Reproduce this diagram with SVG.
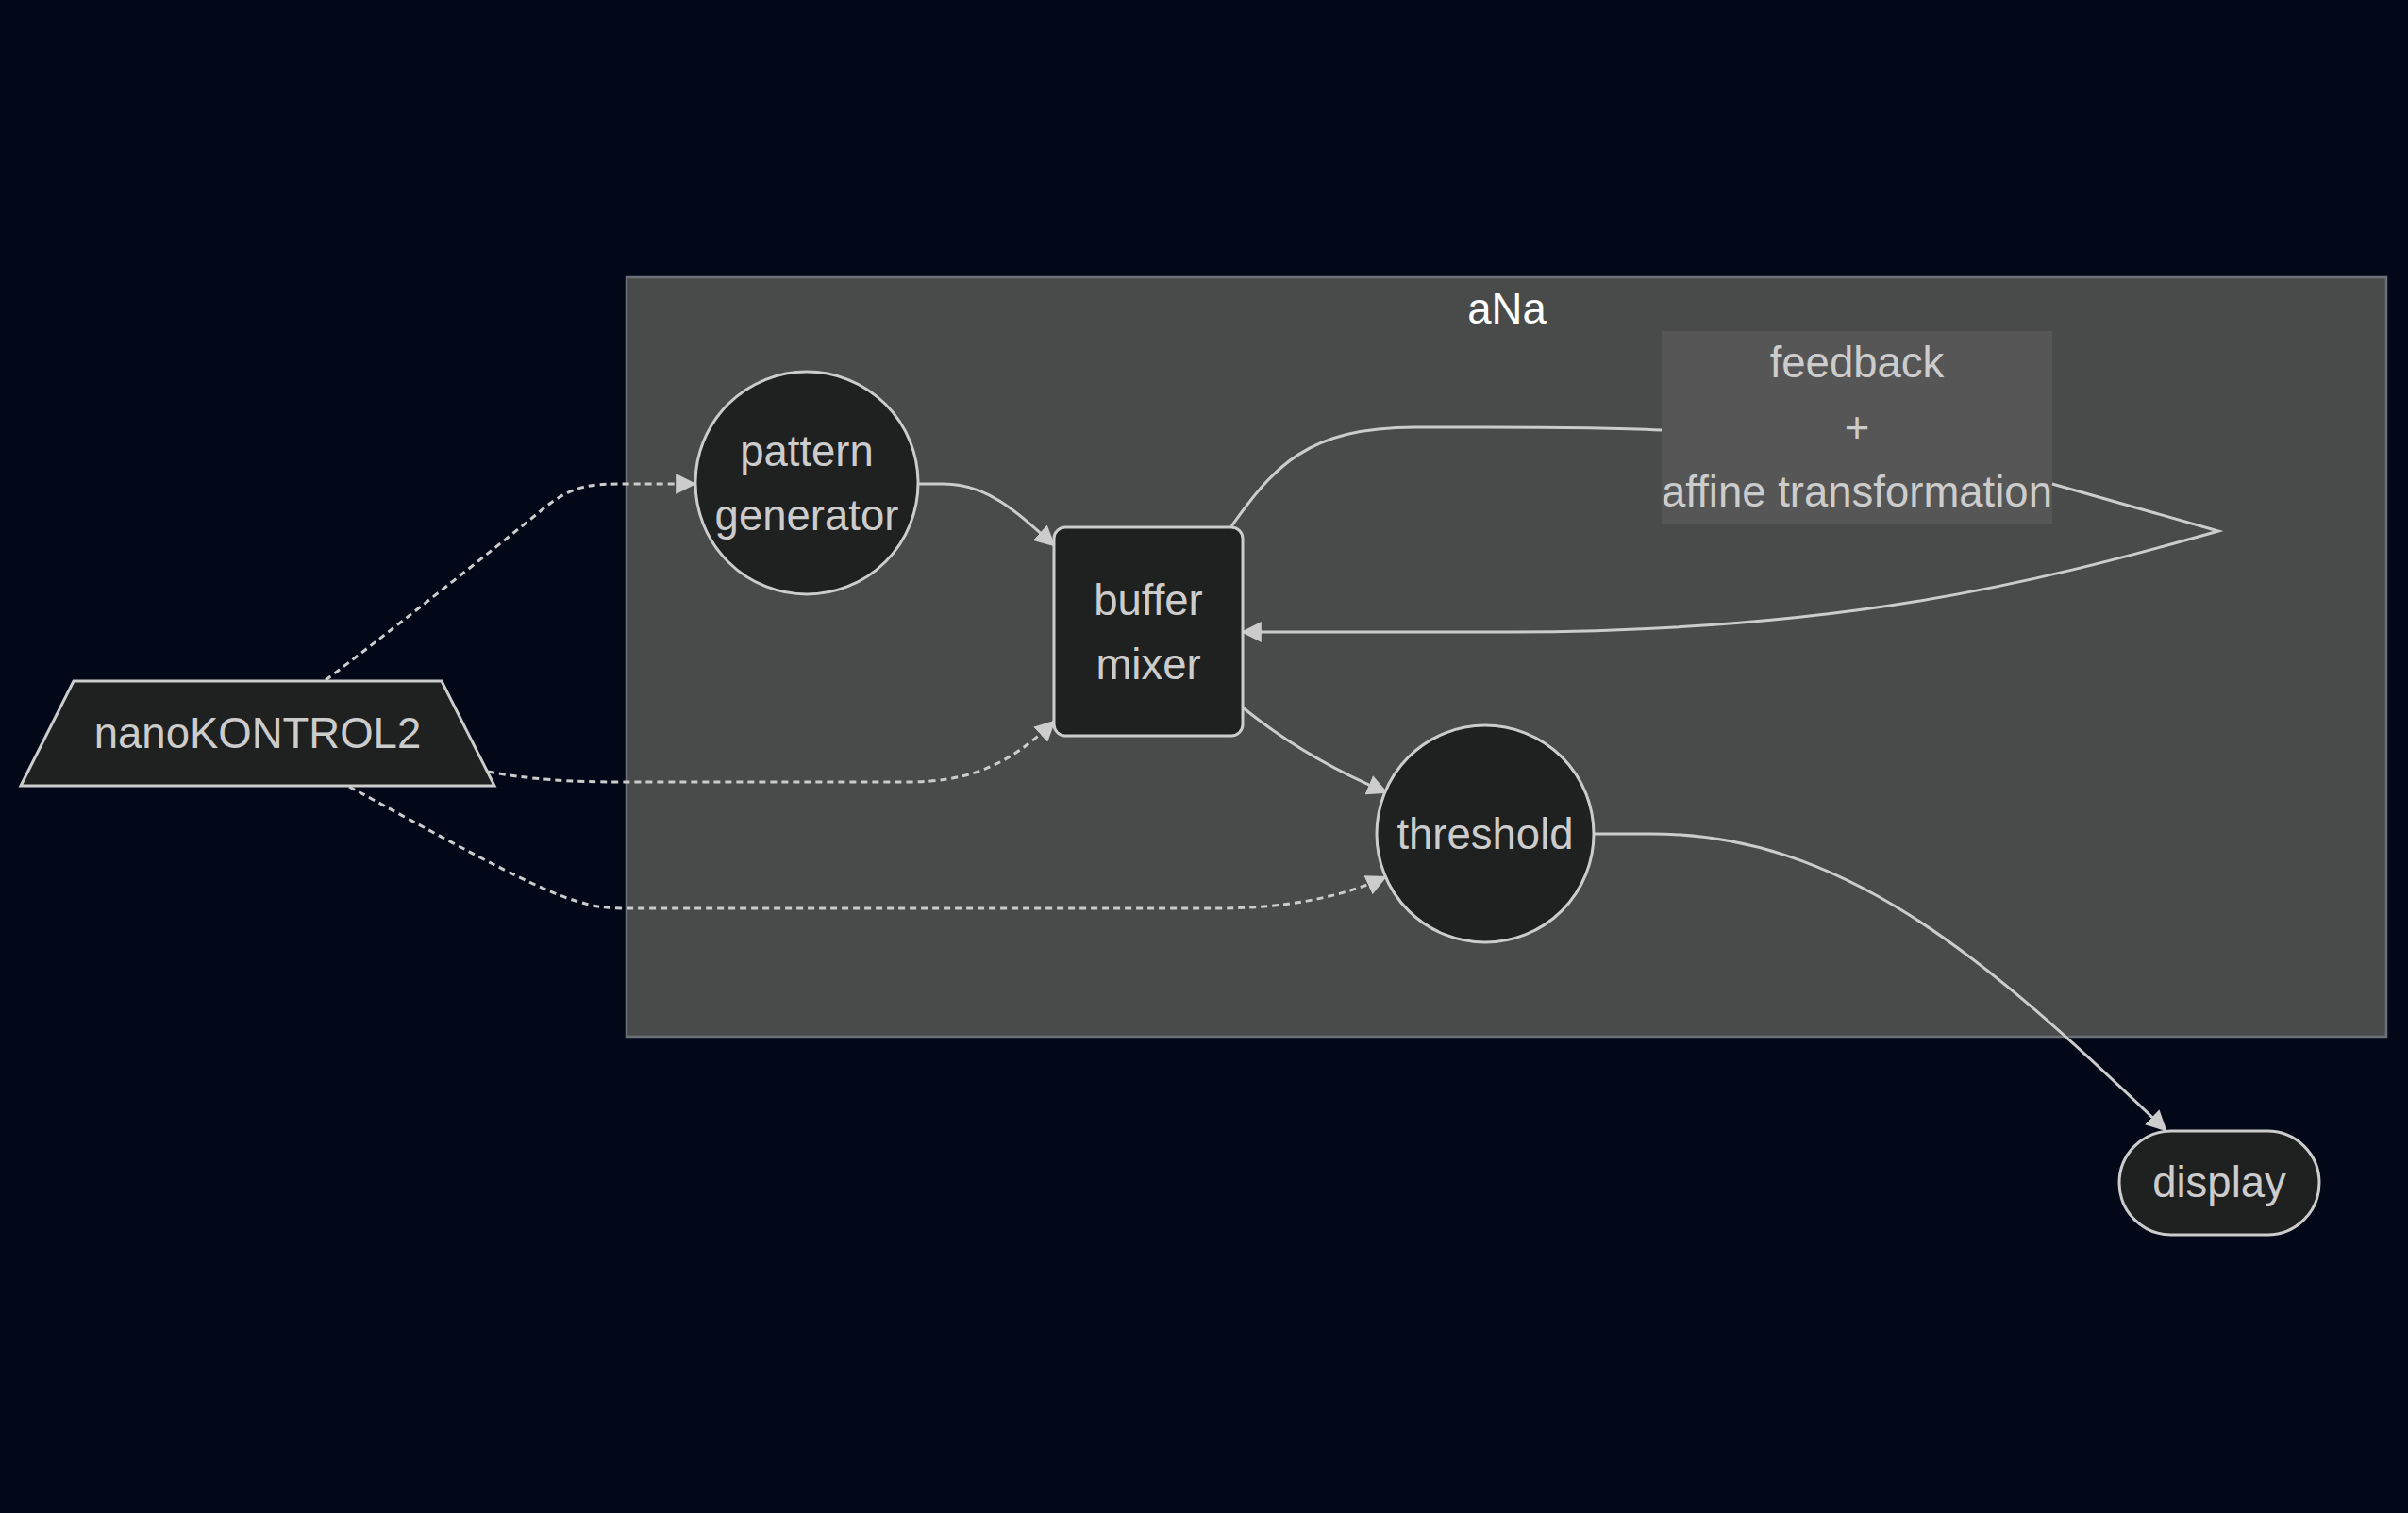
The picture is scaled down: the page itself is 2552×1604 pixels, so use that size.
<svg xmlns="http://www.w3.org/2000/svg" width="2552" height="1604" viewBox="0 0 2552 1604">
<style>
.bg{fill:#020817}
.cluster{fill:#494a4a;stroke:#6c7078;stroke-width:2.5}
.node{fill:#1f2020;stroke:#cccccc;stroke-width:3}
.lbl{font-family:"Liberation Sans",Arial,sans-serif;font-size:45.5px;fill:#cccccc;text-anchor:middle}
.title{font-family:"Liberation Sans",Arial,sans-serif;font-size:45.5px;fill:#ffffff;text-anchor:middle}
.edge{fill:none;stroke:#cccccc;stroke-width:3}
.dotted{stroke-dasharray:7 5}
</style>
<defs>
<marker id="arr" viewBox="0 0 10 10" refX="9" refY="5" markerUnits="userSpaceOnUse" markerWidth="22" markerHeight="22" orient="auto">
<path d="M0,0 L10,5 L0,10 z" fill="#cccccc"/>
</marker>
</defs>
<rect class="bg" x="0" y="0" width="2552" height="1604"/>
<g id="cluster-aNa">
<rect class="cluster" x="664" y="294" width="1865" height="805"/>
<text class="title" x="1597" y="343">aNa</text>
</g>
<g id="node-feedback">
<rect x="1761" y="351" width="414" height="205" fill="#565656"/>
<text class="lbl" x="1968" y="400">feedback</text>
<text class="lbl" x="1968" y="469">+</text>
<text class="lbl" x="1968" y="537">affine transformation</text>
</g>
<g id="connectors">
<path class="edge dotted" d="M345,721 C400,680 520,585 575,540 C605,515 625,513 660,513 L736,513" marker-end="url(#arr)"/>
<path class="edge dotted" d="M517,818 C560,826 600,829 660,829 L960,829 C1030,829 1070,810 1117,765" marker-end="url(#arr)"/>
<path class="edge dotted" d="M370,834 C450,877 560,940 610,955 C630,961 640,963 665,963 L1290,963 C1360,963 1420,952 1468,930" marker-end="url(#arr)"/>
<path class="edge" d="M973,513 L1000,513 C1045,513 1075,540 1117,578" marker-end="url(#arr)"/>
<path class="edge" d="M1305,558 C1350,495 1385,453 1500,453 L1574,453 C1650,453 1720,454 1761,456"/>
<path class="edge" d="M2175,513 L2351,563 C2150,620 1950,669 1600,670 L1317,670" marker-end="url(#arr)"/>
<path class="edge" d="M1317,750 C1360,785 1410,815 1469,840" marker-end="url(#arr)"/>
<path class="edge" d="M1690,884 L1750,884 C1950,884 2100,1010 2295,1198" marker-end="url(#arr)"/>
</g>
<g id="node-nanoKONTROL2">
<polygon class="node" points="22,833 78,722 468,722 524,833"/>
<text class="lbl" x="273" y="793">nanoKONTROL2</text>
</g>
<g id="node-pattern">
<circle class="node" cx="855" cy="512" r="118"/>
<text class="lbl" x="855" y="494">pattern</text>
<text class="lbl" x="855" y="562">generator</text>
</g>
<g id="node-buffer">
<rect class="node" x="1117" y="559" width="200" height="221" rx="12"/>
<text class="lbl" x="1217" y="652">buffer</text>
<text class="lbl" x="1217" y="720">mixer</text>
</g>
<g id="node-threshold">
<circle class="node" cx="1574" cy="884" r="115"/>
<text class="lbl" x="1574" y="900">threshold</text>
</g>
<g id="node-display">
<rect class="node" x="2246" y="1199" width="212" height="110" rx="55"/>
<text class="lbl" x="2352" y="1269">display</text>
</g>
</svg>
